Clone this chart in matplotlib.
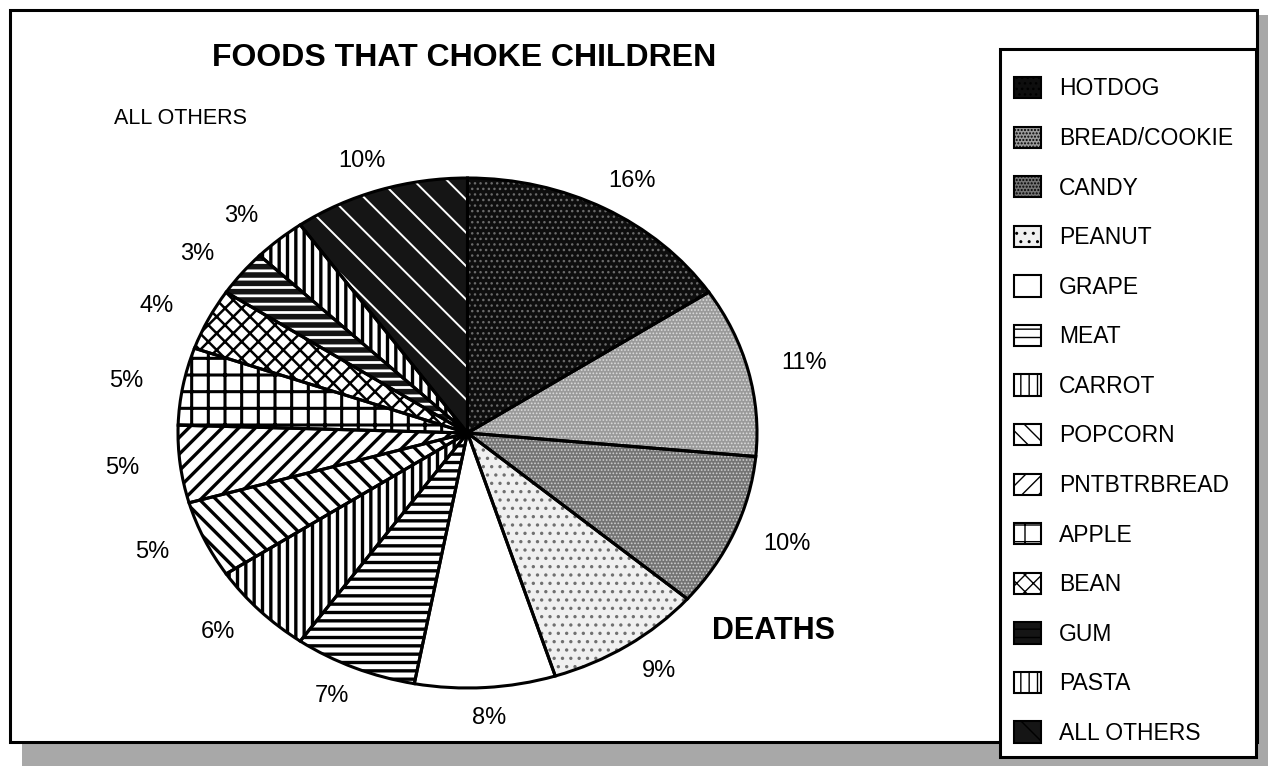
import numpy as np
import matplotlib.pyplot as plt
from matplotlib.patches import Patch, Rectangle

plt.rcParams['font.family'] = ['Liberation Sans', 'DejaVu Sans']

# data (labels printed as whole percents)
foods = ["HOTDOG", "BREAD/COOKIE", "CANDY", "PEANUT", "GRAPE", "MEAT", "CARROT",
         "POPCORN", "PNTBTRBREAD", "APPLE", "BEAN", "GUM", "PASTA", "ALL OTHERS"]
shares = [16, 11, 10, 9, 8, 7, 6, 5, 5, 5, 4, 3, 3, 10]
pct_labels = [f"{v}%" for v in shares]

# fill / hatch / hatch colour per slice (black & white print look)
faces = ["#0e0e0e", "#9a9a9a", "#747474", "#f0f0f0", "white", "white", "white",
         "white", "white", "white", "white", "#151515", "white", "#151515"]
hatches = ["...", ".....", ".....", "..", None, "--", "||",
           "\\\\", "//", "+", "xx", "--", "||", "\\"]
hatch_cols = ["#6a6a6a", "#dcdcdc", "#cfcfcf", "#707070", "black", "black", "black",
              "black", "black", "black", "black", "white", "black", "white"]
hatch_lw = [1.0, 0.8, 0.8, 1.2, 1.0, 2.4, 2.4, 2.4, 2.4, 2.2, 1.8, 2.0, 2.4, 1.4]

W, H = 1268, 773
fig = plt.figure(figsize=(W / 100, H / 100), dpi=100)


def fx(px):
    return px / W


def fy(py):
    return 1 - py / H


# scanned page background: grey shadow bands, outer frame
fig.patches.append(Rectangle((fx(22), fy(766)), fx(1268) - fx(22), (766 - 742) / H,
                             transform=fig.transFigure, facecolor="#a8a8a8",
                             edgecolor="none", zorder=-3))
fig.patches.append(Rectangle((fx(1257), fy(766)), fx(11), (766 - 15) / H,
                             transform=fig.transFigure, facecolor="#a8a8a8",
                             edgecolor="none", zorder=-3))
fig.patches.append(Rectangle((fx(10), fy(742)), fx(1257) - fx(10), (742 - 10) / H,
                             transform=fig.transFigure, facecolor="white",
                             edgecolor="black", linewidth=2.2, zorder=-2))

# pie axes sized to the (slightly elliptical) scanned pie
ax = fig.add_axes([fx(178), fy(688), fx(757) - fx(178), (688 - 178) / H])
ax.set_zorder(1)
ax.patch.set_visible(False)
wedges, _ = ax.pie(shares, startangle=90, counterclock=False,
                   wedgeprops=dict(linewidth=0))
for w, fc, h, hc, lw in zip(wedges, faces, hatches, hatch_cols, hatch_lw):
    w.set_facecolor(fc)
    w.set_edgecolor(hc)
    if h:
        w.set_hatch(h)
    if hasattr(w, "set_hatch_linewidth"):
        w.set_hatch_linewidth(lw)
    w.set_clip_on(False)

outlines, _ = ax.pie(shares, startangle=90, counterclock=False,
                     wedgeprops=dict(fill=False, edgecolor="black", linewidth=2.2))
for w in outlines:
    w.set_clip_on(False)

# percent labels around the rim (a bit closer at top/bottom, as in the scan)
for w, lab in zip(wedges, pct_labels):
    mid = np.deg2rad((w.theta1 + w.theta2) / 2)
    ax.text(1.2 * np.cos(mid), 1.12 * np.sin(mid), lab, ha="center", va="center",
            fontsize=17, clip_on=False)

ax.set_aspect("auto")
ax.set_xlim(-1, 1)
ax.set_ylim(-1, 1)
ax.axis("off")

fig.text(fx(464), fy(58), "FOODS THAT CHOKE CHILDREN", ha="center", va="center",
         fontsize=23, fontweight="bold")
fig.text(fx(180), fy(118), "ALL OTHERS", ha="center", va="center", fontsize=15.5)
fig.text(fx(773), fy(631), "DEATHS", ha="center", va="center",
         fontsize=22, fontweight="bold")

# legend box drawn separately so it can hang over the bottom shadow
fig.patches.append(Rectangle((fx(1000), fy(757)), fx(1256) - fx(1000), (757 - 49) / H,
                             transform=fig.transFigure, facecolor="white",
                             edgecolor="black", linewidth=2.2, zorder=2))
handles = []
for fc, h in zip(faces, hatches):
    handles.append(Patch(facecolor=fc, edgecolor="black", hatch=h, linewidth=1.5))
leg = fig.legend(handles, foods, loc="upper left",
                 bbox_to_anchor=(fx(1014), fy(77)), frameon=False,
                 fontsize=16.5, handlelength=1.18, handleheight=1.05,
                 handletextpad=0.8, labelspacing=1.14, borderpad=0,
                 borderaxespad=0)
leg.set_zorder(3)

fig.savefig("out.png", dpi=100)
